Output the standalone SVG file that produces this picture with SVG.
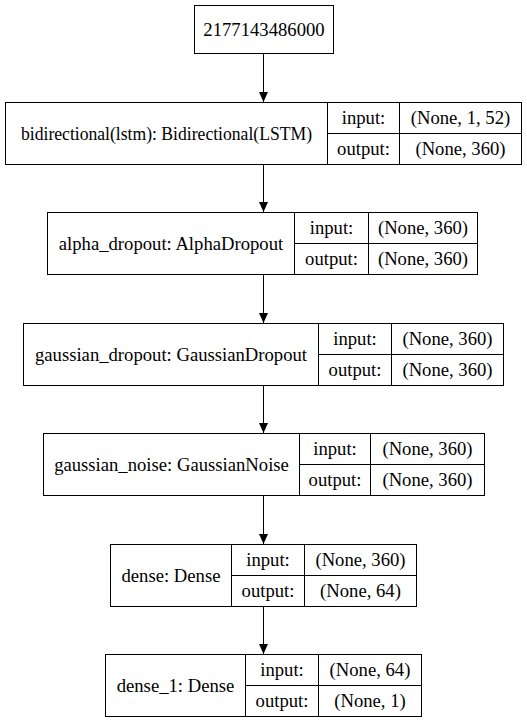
<svg xmlns="http://www.w3.org/2000/svg" width="527" height="724" viewBox="0 0 527 724">
<style>
.b{fill:#fff;stroke:#000;stroke-width:1}
.l{stroke:#000;stroke-width:1;fill:none}
.t{font-size:18.67px;fill:#000;text-anchor:middle}
</style>
<defs>
<marker id="ah" markerUnits="userSpaceOnUse" markerWidth="10" markerHeight="12" refX="10" refY="4.5" orient="auto" viewBox="0 0 10 9">
<path d="M0,0 L10,4.5 L0,9 Z" fill="#000"/>
</marker>
</defs>
<rect width="527" height="724" fill="#fff"/>
<g id="edges">
<line class="l" x1="263.5" y1="53.5" x2="263.5" y2="102" marker-end="url(#ah)"/>
<line class="l" x1="263.5" y1="164.5" x2="263.5" y2="212" marker-end="url(#ah)"/>
<line class="l" x1="263.5" y1="274.5" x2="263.5" y2="323" marker-end="url(#ah)"/>
<line class="l" x1="263.5" y1="385.5" x2="263.5" y2="433" marker-end="url(#ah)"/>
<line class="l" x1="263.5" y1="495.5" x2="263.5" y2="544" marker-end="url(#ah)"/>
<line class="l" x1="263.5" y1="606.5" x2="263.5" y2="654" marker-end="url(#ah)"/>
</g>
<g class="t" font-family="'Liberation Serif', 'DejaVu Serif', serif">
<g id="n1">
<rect class="b" x="194.5" y="5.5" width="139" height="48"/>
<text x="264" y="35.5">2177143486000</text>
</g>
<g id="n2">
<rect class="b" x="5.5" y="102.5" width="516" height="62"/>
<path class="l" d="M327.5,102.5V164.5M399.5,102.5V164.5M327.5,133.5H521.5"/>
<text x="166.5" y="139.5" textLength="291" lengthAdjust="spacingAndGlyphs">bidirectional(lstm): Bidirectional(LSTM)</text>
<text x="363.5" y="124">input:</text>
<text x="363.5" y="155">output:</text>
<text x="460.5" y="124">(None, 1, 52)</text>
<text x="460.5" y="155">(None, 360)</text>
</g>
<g id="n3">
<rect class="b" x="47.5" y="212.5" width="430" height="62"/>
<path class="l" d="M294.5,212.5V274.5M368.5,212.5V274.5M294.5,243.5H477.5"/>
<text x="171" y="249.5">alpha_dropout: AlphaDropout</text>
<text x="331.5" y="234">input:</text>
<text x="331.5" y="265">output:</text>
<text x="423" y="234">(None, 360)</text>
<text x="423" y="265">(None, 360)</text>
</g>
<g id="n4">
<rect class="b" x="23.5" y="323.5" width="480" height="62"/>
<path class="l" d="M318.5,323.5V385.5M391.5,323.5V385.5M318.5,354.5H503.5"/>
<text x="171" y="360.5">gaussian_dropout: GaussianDropout</text>
<text x="355" y="345">input:</text>
<text x="355" y="376">output:</text>
<text x="447.5" y="345">(None, 360)</text>
<text x="447.5" y="376">(None, 360)</text>
</g>
<g id="n5">
<rect class="b" x="43.5" y="433.5" width="441" height="62"/>
<path class="l" d="M299.5,433.5V495.5M370.5,433.5V495.5M299.5,464.5H484.5"/>
<text x="171.5" y="470.5">gaussian_noise: GaussianNoise</text>
<text x="335" y="455">input:</text>
<text x="335" y="486">output:</text>
<text x="427.5" y="455">(None, 360)</text>
<text x="427.5" y="486">(None, 360)</text>
</g>
<g id="n6">
<rect class="b" x="110.5" y="544.5" width="306" height="62"/>
<path class="l" d="M231.5,544.5V606.5M304.5,544.5V606.5M231.5,575.5H416.5"/>
<text x="171" y="581.5">dense: Dense</text>
<text x="268" y="566">input:</text>
<text x="268" y="597">output:</text>
<text x="360.5" y="566">(None, 360)</text>
<text x="360.5" y="597">(None, 64)</text>
</g>
<g id="n7">
<rect class="b" x="105.5" y="654.5" width="316" height="62"/>
<path class="l" d="M245.5,654.5V716.5M318.5,654.5V716.5M245.5,685.5H421.5"/>
<text x="175.5" y="691.5">dense_1: Dense</text>
<text x="282" y="676">input:</text>
<text x="282" y="707">output:</text>
<text x="370" y="676">(None, 64)</text>
<text x="370" y="707">(None, 1)</text>
</g>
</g>
</svg>
